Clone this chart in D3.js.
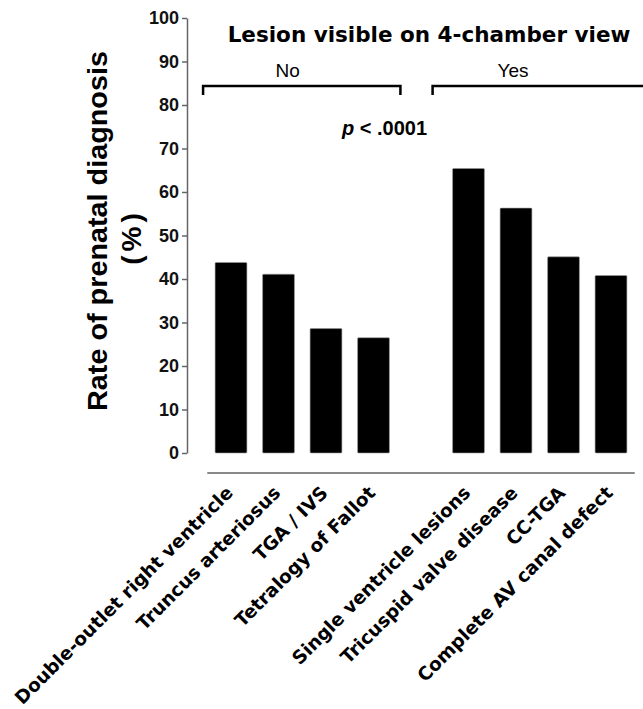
<!DOCTYPE html>
<html>
<head>
<meta charset="utf-8">
<script src="https://cdn.jsdelivr.net/npm/d3@7"></script>
<style>
  body { margin: 0; background: #fff; }
</style>
</head>
<body>
<script>
const width = 643;
const height = 709;

// data
const lesions = ["Double-outlet right ventricle", "Truncus arteriosus", "TGA / IVS", "Tetralogy of Fallot",
                 "Single ventricle lesions", "Tricuspid valve disease", "CC-TGA", "Complete AV canal defect"];
const visible = ["No", "No", "No", "No", "Yes", "Yes", "Yes", "Yes"];
const rates = [43.8, 41.1, 28.6, 26.5, 65.4, 56.3, 45.1, 40.8];
const yTicks = [0, 10, 20, 30, 40, 50, 60, 70, 80, 90, 100];

// an empty slot sits between the two groups
const slots = lesions.slice(0, 4).concat(["gap"], lesions.slice(4));

const svg = d3.select('body')
  .append('svg')
  .attr('width', width)
  .attr('height', height)
  .style('font-family', '"Liberation Sans", Arial, sans-serif');

const x = d3.scaleBand()
    .domain(slots)
    .range([207.25, 634.75])
    .paddingInner(0.33)
    .paddingOuter(0.165);

const y = d3.scaleLinear()
    .domain([0, 100])
    .range([453, 18]);

const bw = x.bandwidth();

// y axis
const yAxis = svg.append("g")
    .attr("transform", "translate(187,0)")
    .call(d3.axisLeft(y).tickValues(yTicks).tickSize(5).tickSizeOuter(0).tickPadding(3));

yAxis.select(".domain").attr("stroke", "#666").attr("stroke-width", 1.5);
yAxis.selectAll(".tick line").attr("stroke", "#666").attr("stroke-width", 1.5);
yAxis.selectAll(".tick text")
    .attr("fill", "#111")
    .style("font-size", "18px")
    .style("font-weight", "bold")
    .style("font-family", '"Liberation Sans", Arial, sans-serif');

// y title, two lines
svg.append("text")
    .attr("transform", "translate(107,231) rotate(-90)")
    .attr("text-anchor", "middle")
    .attr("textLength", 360)
    .attr("lengthAdjust", "spacingAndGlyphs")
    .style("font-size", "28px")
    .style("font-weight", "bold")
    .text("Rate of prenatal diagnosis");

svg.append("text")
    .attr("transform", "translate(141,237) rotate(-90)")
    .attr("text-anchor", "middle")
    .style("font-size", "28px")
    .style("font-weight", "bold")
    .style("letter-spacing", "4px")
    .text("(%)");

// bars
svg.append("g")
  .selectAll("rect")
  .data(lesions)
  .enter().append("rect")
    .attr("x", d => x(d))
    .attr("y", (d, i) => y(rates[i]))
    .attr("width", bw)
    .attr("height", (d, i) => y(0) - y(rates[i]))
    .attr("rx", 1)
    .attr("fill", "#000")
    .attr("stroke", "#999")
    .attr("stroke-width", 0.6);

// baseline under the bars
svg.append("line")
    .attr("x1", x.range()[0])
    .attr("x2", x.range()[1])
    .attr("y1", 473)
    .attr("y2", 473)
    .attr("stroke", "#888")
    .attr("stroke-width", 2);

// category labels
svg.append("g")
  .selectAll("text")
  .data(lesions)
  .enter().append("text")
    .attr("transform", d => "translate(" + (x(d) + bw / 2 + 3) + ",494) rotate(-45)")
    .attr("text-anchor", "end")
    .style("font-family", '"DejaVu Sans", Verdana, sans-serif')
    .style("font-size", "18.5px")
    .style("font-weight", "bold")
    .text(d => d);

// group brackets
const by0 = 86, by1 = 95;
const noL = x(lesions[0]) - 12, noR = x(lesions[3]) + bw + 11;
const yesL = x(lesions[4]) - 20;

svg.append("path")
    .attr("d", `M${noL},${by1}L${noL},${by0}L${noR},${by0}L${noR},${by1}`)
    .attr("fill", "none")
    .attr("stroke", "#000")
    .attr("stroke-width", 2.5);

svg.append("path")
    .attr("d", `M${yesL},${by1}L${yesL},${by0}L${width + 10},${by0}`)
    .attr("fill", "none")
    .attr("stroke", "#000")
    .attr("stroke-width", 2.5);

svg.append("text")
    .attr("x", (noL + noR) / 2 - 14)
    .attr("y", 77)
    .attr("text-anchor", "middle")
    .style("font-size", "19px")
    .text(visible[0]);

svg.append("text")
    .attr("x", 513)
    .attr("y", 77)
    .attr("text-anchor", "middle")
    .style("font-size", "19px")
    .text(visible[4]);

// title
svg.append("text")
    .attr("x", 429)
    .attr("y", 42)
    .attr("text-anchor", "middle")
    .style("font-family", '"DejaVu Sans", Verdana, sans-serif')
    .style("font-size", "21.5px")
    .style("font-weight", "bold")
    .text("Lesion visible on 4-chamber view");

// p value
const ptext = svg.append("text")
    .attr("x", 427)
    .attr("y", 135)
    .attr("text-anchor", "end")
    .style("font-size", "20px")
    .style("font-weight", "bold");
ptext.append("tspan").style("font-style", "italic").text("p");
ptext.append("tspan").text(" < .0001");
</script>
</body>
</html>
